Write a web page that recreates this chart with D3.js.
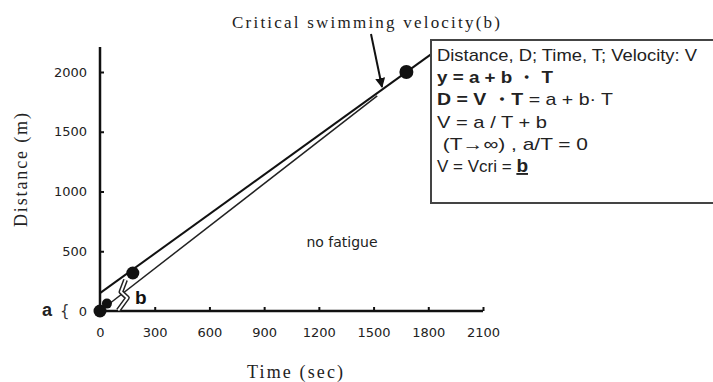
<!DOCTYPE html>
<html>
<head>
<meta charset="utf-8">
<script src="https://cdn.jsdelivr.net/npm/d3@7"></script>
<style>
  html, body { margin: 0; padding: 0; background: #fff; }
  svg { display: block; }
  .tick text { font-family: "DejaVu Sans", sans-serif; font-size: 13px; fill: #222; }
</style>
</head>
<body>
<svg id="chart" width="713" height="382"></svg>
<script>
// Axis ticks
const xTicks = [0, 300, 600, 900, 1200, 1500, 1800, 2100];
const yTicks = [0, 500, 1000, 1500, 2000];

// Regression line D = a + b*T (upper) and line through origin (lower)
const upperLine = [[0, 150], [1820, 2154]];
const lowerLine = [[0, 0], [1520, 1800]];

// Measured points (time s, distance m)
const points = [[0, 0], [38, 62], [180, 318], [1680, 2000]];
const pointRadius = [6.5, 5, 6.5, 7];

// Explanation box: each line as [bold part, regular part, drawn width]
const boxLines = [
  ["", "Distance, D; Time, T; Velocity: V", 260],
  ["y = a + b \u30FB T", "", 116],
  ["D = V \u30FBT", " = a + b\u00B7 T", 176],
  ["", "V = a / T + b", 110],
  ["", "\u00A0(T\u2192\u221E) , a/T = 0", 151],
  ["", "V = Vcri = ", 88]
];

const svg = d3.select("#chart");
const x = d3.scaleLinear().domain([0, 2100]).range([100, 483]);
const y = d3.scaleLinear().domain([0, 2000]).range([311, 72]);

// Axes with inward ticks
const gx = svg.append("g").attr("transform", `translate(0,${y(0)})`)
  .call(d3.axisBottom(x).tickValues(xTicks).tickFormat(d3.format("d"))
    .tickSize(-4).tickSizeOuter(0).tickPadding(17));
gx.select(".domain").remove();
gx.selectAll(".tick line").attr("stroke", "#111").attr("stroke-width", 2);

const gy = svg.append("g").attr("transform", `translate(${x(0)},0)`)
  .call(d3.axisLeft(y).tickValues(yTicks).tickFormat(d3.format("d"))
    .tickSize(-4).tickSizeOuter(0).tickPadding(13));
gy.select(".domain").remove();
gy.selectAll(".tick line").attr("stroke", "#111").attr("stroke-width", 2);

// Axis lines
svg.append("line").attr("x1", x(0)).attr("x2", x(2100)).attr("y1", y(0)).attr("y2", y(0))
  .attr("stroke", "#111").attr("stroke-width", 2.5);
svg.append("line").attr("x1", x(0)).attr("x2", x(0)).attr("y1", y(0) + 1).attr("y2", y(2210))
  .attr("stroke", "#111").attr("stroke-width", 2.5);

// Lines
const line = d3.line().x(d => x(d[0])).y(d => y(d[1]));
svg.append("path").datum(lowerLine).attr("d", line)
  .attr("fill", "none").attr("stroke", "#222").attr("stroke-width", 1.5);
svg.append("path").datum(upperLine).attr("d", line)
  .attr("fill", "none").attr("stroke", "#111").attr("stroke-width", 2);

// Small double-stroke zigzag marking the slope b
const zig = [[100, 5], [150, 110], [115, 160], [140, 260]];
const zigPath = d3.line().x(d => x(d[0])).y(d => y(d[1]))(zig);
svg.append("path").attr("d", zigPath).attr("fill", "none").attr("stroke", "#222")
  .attr("stroke-width", 5).attr("stroke-linejoin", "round");
svg.append("path").attr("d", zigPath).attr("fill", "none").attr("stroke", "#fff")
  .attr("stroke-width", 2).attr("stroke-linejoin", "round");

// Points
svg.selectAll("circle.pt").data(points).join("circle")
  .attr("class", "pt")
  .attr("cx", d => x(d[0])).attr("cy", d => y(d[1]))
  .attr("r", (d, i) => pointRadius[i]).attr("fill", "#111");

svg.append("text").attr("x", 135).attr("y", 304)
  .attr("font-family", "Liberation Sans, Arial, sans-serif").attr("font-weight", "bold")
  .attr("font-size", 19).attr("fill", "#111").text("b");

// Intercept label a {
svg.append("text").attr("x", 42).attr("y", 316)
  .attr("font-family", "Liberation Sans, Arial, sans-serif").attr("font-weight", "bold")
  .attr("font-size", 18).attr("fill", "#222").text("a");
svg.append("text").attr("x", 60).attr("y", 316)
  .attr("font-family", "DejaVu Sans, sans-serif")
  .attr("font-size", 15).attr("fill", "#333").text("{");

// Axis titles
svg.append("text").attr("transform", "translate(27,170) rotate(-90)")
  .attr("text-anchor", "middle")
  .attr("font-family", "Liberation Serif, Times New Roman, serif")
  .attr("font-size", 18).attr("fill", "#222")
  .attr("textLength", 114).attr("lengthAdjust", "spacing")
  .text("Distance (m)");
svg.append("text").attr("x", 295).attr("y", 378)
  .attr("text-anchor", "middle")
  .attr("font-family", "Liberation Serif, Times New Roman, serif")
  .attr("font-size", 18).attr("fill", "#222")
  .attr("textLength", 96).attr("lengthAdjust", "spacing")
  .text("Time (sec)");

// Annotation with arrow
svg.append("text").attr("x", 232).attr("y", 28)
  .attr("font-family", "Liberation Serif, Times New Roman, serif")
  .attr("font-size", 17).attr("fill", "#222")
  .attr("textLength", 268).attr("lengthAdjust", "spacing")
  .text("Critical swimming velocity(b)");
svg.append("defs").append("marker").attr("id", "ah")
  .attr("viewBox", "0 0 10 10").attr("refX", 9).attr("refY", 5)
  .attr("markerWidth", 5).attr("markerHeight", 5).attr("orient", "auto")
  .append("path").attr("d", "M0,0 L10,5 L0,10 Z").attr("fill", "#111");
svg.append("line").attr("x1", 371).attr("y1", 34).attr("x2", 382).attr("y2", 87)
  .attr("stroke", "#111").attr("stroke-width", 2).attr("marker-end", "url(#ah)");

// no fatigue
svg.append("text").attr("x", 342).attr("y", 247).attr("text-anchor", "middle")
  .attr("font-family", "DejaVu Sans, sans-serif").attr("font-size", 14).attr("fill", "#222")
  .text("no fatigue");

// Explanation box
svg.append("rect").attr("x", 431).attr("y", 40).attr("width", 290).attr("height", 163)
  .attr("fill", "#fff").attr("stroke", "#444").attr("stroke-width", 2);
const bt = svg.append("g").attr("font-family", "Liberation Sans, Arial, sans-serif")
  .attr("font-size", 17).attr("fill", "#222");
const rows = bt.selectAll("text").data(boxLines).join("text")
  .attr("x", 437).attr("y", (d, i) => 61 + i * 22.2);
rows.each(function (d, i) {
  const t = d3.select(this);
  if (d[0]) t.append("tspan").attr("font-weight", "bold").text(d[0]);
  if (d[1]) t.append("tspan").text(d[1]);
  if (i === boxLines.length - 1) {
    t.append("tspan").attr("font-weight", "bold").attr("font-size", 19)
      .attr("text-decoration", "underline").text("b");
  } else {
    t.attr("textLength", d[2]).attr("lengthAdjust", "spacingAndGlyphs");
  }
});
</script>
</body>
</html>
